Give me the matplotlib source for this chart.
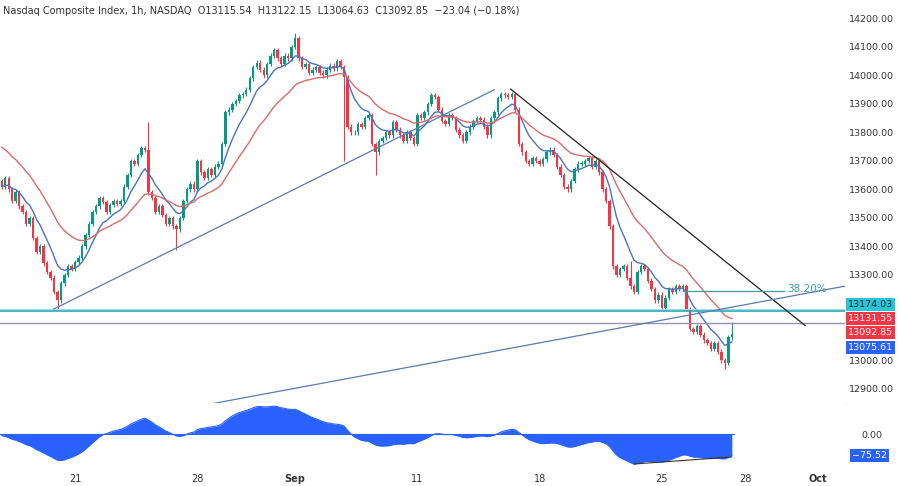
import matplotlib
matplotlib.use("Agg")
import matplotlib.pyplot as plt
import numpy as np
import pandas as pd

# hourly closes, 7 bars per trading day (Aug 16 .. Sep 27)
closes_by_day = [
    [13610, 13640, 13600, 13560, 13590, 13540, 13520],
    [13480, 13500, 13430, 13380, 13400, 13340, 13310],
    [13290, 13240, 13210, 13270, 13300, 13330, 13320],
    [13345, 13360, 13400, 13440, 13480, 13520, 13540],
    [13570, 13555, 13520, 13545, 13560, 13550, 13560],
    [13610, 13650, 13700, 13690, 13720, 13745, 13740],
    [13590, 13570, 13520, 13540, 13510, 13480, 13500],
    [13470, 13460, 13500, 13560, 13600, 13620, 13600],
    [13700, 13660, 13640, 13670, 13650, 13680, 13690],
    [13760, 13870, 13880, 13900, 13910, 13930, 13935],
    [13950, 13990, 14030, 14045, 14020, 14000, 14040],
    [14070, 14090, 14060, 14040, 14070, 14060, 14100],
    [14130, 14060, 14030, 14040, 14010, 14020, 14030],
    [14010, 14000, 14020, 14035, 14025, 14050, 14030],
    [13995, 13820, 13800, 13800, 13830, 13820, 13850],
    [13860, 13760, 13730, 13770, 13780, 13800, 13790],
    [13835, 13810, 13790, 13770, 13800, 13780, 13760],
    [13860, 13850, 13870, 13900, 13930, 13925, 13880],
    [13840, 13830, 13860, 13850, 13810, 13790, 13770],
    [13800, 13820, 13840, 13850, 13845, 13820, 13790],
    [13850, 13870, 13920, 13935, 13930, 13925, 13935],
    [13880, 13760, 13730, 13700, 13690, 13710, 13700],
    [13690, 13705, 13730, 13740, 13720, 13680, 13650],
    [13610, 13600, 13630, 13670, 13690, 13690, 13700],
    [13710, 13680, 13700, 13660, 13600, 13560, 13470],
    [13330, 13300, 13320, 13330, 13290, 13260, 13240],
    [13310, 13330, 13320, 13280, 13250, 13210, 13230],
    [13185, 13220, 13250, 13240, 13260, 13250, 13260],
    [13180, 13110, 13100, 13120, 13090, 13070, 13060],
    [13040, 13060, 13030, 13000, 12990, 13080, 13092.85],
]
first_open = 13630
# notable wick extremes: bar index -> price
special_highs = {42: 13836, 84: 14150, 209: 13135, 180: 13350}
special_lows = {16: 13175, 50: 13387, 107: 13650, 189: 13175, 207: 12970, 98: 13700}

tick_pos = [21, 56, 84, 119, 154, 189, 212.9, 233.7]
tick_labels = ["21", "28", "Sep", "11", "18", "25", "28", "Oct"]
price_ticks = list(range(12900, 14201, 100))

# drawings (bar index, price)
support_line = [(14.9, 13180), (141, 13950)]
down_line = [(145.7, 13952), (230, 13122)]
long_line = [(60, 12847), (243, 13264)]
fib_line = [(195, 13245), (224, 13245)]
level_teal = 13174.03
level_purple = 13131.55
badge_texts = ["13174.03", "13131.55", "13092.85", "13075.61"]
badge_y = [13196, 13146, 13098, 13046]

closes = np.array([c for d in closes_by_day for c in d], dtype=float)
n = len(closes)
opens = np.concatenate([[first_open], closes[:-1]])
highs = np.maximum(opens, closes) + 8
lows = np.minimum(opens, closes) - 8
for k, v in special_highs.items():
    highs[k] = max(highs[k], v)
for k, v in special_lows.items():
    lows[k] = min(lows[k], v)

s = pd.Series(closes)
ma_fast = s.ewm(span=9, adjust=False).mean()
warm = pd.Series(np.concatenate([[13760] * 20, closes]))
ma_slow = warm.ewm(span=24, adjust=False).mean().iloc[20:].reset_index(drop=True)
ws = pd.Series(np.concatenate([[13700] * 30, closes]))
osc = (ws.ewm(span=12, adjust=False).mean() - ws.ewm(span=30, adjust=False).mean()).iloc[30:].values

W = 845 / 900
fig = plt.figure(figsize=(9, 4.86), dpi=100)
ax = fig.add_axes([0, 1 - 403 / 486, W, 403 / 486])
ax2 = fig.add_axes([0, 1 - 470 / 486, W, 67 / 486])
green, red = "#089981", "#f23645"
x = np.arange(n)
col = np.where(closes >= opens, green, red)
ax.vlines(x, lows, highs, colors=col, lw=0.8)
ax.bar(x, np.maximum(np.abs(closes - opens), 2), bottom=np.minimum(opens, closes), width=0.7, color=col)
ax.plot(x, ma_fast, color="#4a72c4", lw=1)
ax.plot(x, ma_slow, color="#d96b6b", lw=1)

ax.axhline(level_teal, color="#26a9b8", lw=1.2)
ax.axhline(level_teal + 7, color="#9fdce4", lw=0.8)
ax.axhline(level_purple, color="#9a8fb8", lw=1)
for ln, c in [(support_line, "#5c7bb0"), (down_line, "#222222"), (long_line, "#5c7bb0")]:
    ax.plot([ln[0][0], ln[1][0]], [ln[0][1], ln[1][1]], color=c, lw=0.9)
ax.plot([fib_line[0][0], fib_line[1][0]], [fib_line[0][1], fib_line[1][1]], color="#3a9f9f", lw=0.9)
ax.text(fib_line[1][0] + 0.8, fib_line[0][1] + 5, "38.20%", color="#3a9f9f", fontsize=7.5, va="center")

ax.set_xlim(-0.5, 241.4)
ax.set_ylim(12850, 14265)
ax.set_yticks(price_ticks)
ax.yaxis.tick_right()
ax.set_yticklabels([f"{p:.2f}" for p in price_ticks], fontsize=6.8, color="#333333")
ax.tick_params(axis="y", length=0, pad=3)
ax.set_xticks([])
for sp in ax.spines.values():
    sp.set_visible(False)
ax.spines["bottom"].set_visible(True)
ax.spines["bottom"].set_color("#e0e3eb")

badge_bg = ["#26c6da", "#f23645", "#f23645", "#2962ff"]
badge_fg = ["#222222", "white", "white", "white"]
for y, t, bg, fg in zip(badge_y, badge_texts, badge_bg, badge_fg):
    ax.text(1.003, y, t, transform=ax.get_yaxis_transform(), fontsize=6.8, color=fg, va="center",
            ha="left", bbox=dict(boxstyle="square,pad=0.2", fc=bg, ec="none"), clip_on=False)

ax.text(0.003, 0.985, "Nasdaq Composite Index, 1h, NASDAQ  O13115.54  H13122.15  L13064.63  C13092.85  \u221223.04 (\u22120.18%)",
        transform=ax.transAxes, fontsize=7, color="#333333", va="top")

ax2.fill_between(x, osc, 0, color="#2962ff", lw=0)
ax2.plot(x, osc, color="#2962ff", lw=0.8)
ax2.axhline(0, color="#2962ff", lw=0.8, xmax=(n - 0.5 + 0.5) / 241.9)
imin = int(np.argmin(osc))
ax2.plot([imin, n - 1], [osc[imin], osc[-1] - 8], color="#333333", lw=0.8)
lo = osc.min() * 1.2
hi = -lo * 31 / 36
ax2.set_ylim(lo, hi)
ax2.set_xlim(-0.5, 241.4)
ax2.set_yticks([0])
ax2.yaxis.tick_right()
ax2.set_yticklabels(["0.00"], fontsize=6.8, color="#333333")
ax2.tick_params(axis="y", length=0, pad=12)
ax2.text(1.008, osc[-1], "\u221275.52", transform=ax2.get_yaxis_transform(), fontsize=6.8, color="white", va="center",
         bbox=dict(boxstyle="square,pad=0.2", fc="#2962ff", ec="none"), clip_on=False)
ax2.set_xticks(tick_pos)
ax2.set_xticklabels(tick_labels, fontsize=7, color="#333333")
for lbl in ax2.get_xticklabels():
    if lbl.get_text() in ("Sep", "Oct"):
        lbl.set_fontweight("bold")
ax2.tick_params(axis="x", length=0, pad=3)
for sp in ax2.spines.values():
    sp.set_visible(False)

fig.savefig("out.png", dpi=100, facecolor="white")
